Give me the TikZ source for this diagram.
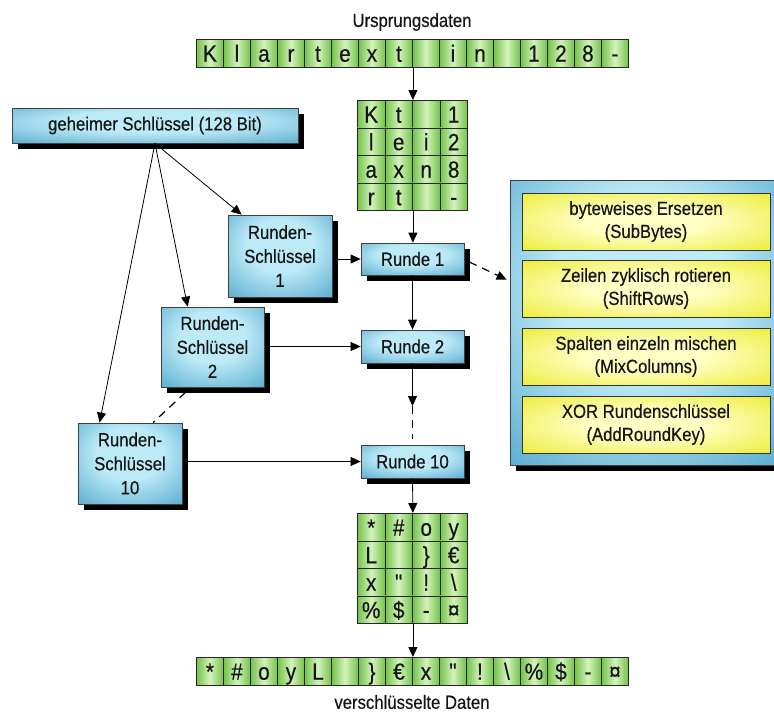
\documentclass[tikz,border=0pt]{standalone}
\usepackage{fontspec}
\setmainfont{Liberation Sans}[FakeStretch=0.88, FakeBold=0.4]
\newfontfamily\rawfont{Liberation Sans}[FakeStretch=0.88, FakeBold=0.4]
\usetikzlibrary{arrows.meta,shadows,calc}

\definecolor{cellmid}{HTML}{D4F3BC}
\definecolor{celledge}{HTML}{74C24A}
\definecolor{bluelight}{HTML}{BDEAF7}
\definecolor{bluedark}{HTML}{2A8FBC}
\definecolor{yellowmid}{HTML}{FFFFC4}
\definecolor{yellowedge}{HTML}{E4E400}
\definecolor{ink}{HTML}{151515}

\pgfdeclareradialshading{boxblue}{\pgfpoint{0bp}{8bp}}%
  {color(0bp)=(bluelight); color(16bp)=(bluelight); color(50bp)=(bluedark); color(72bp)=(bluedark)}
\pgfdeclareradialshading{boxyellow}{\pgfpoint{0bp}{0bp}}%
  {color(0bp)=(yellowmid); color(12bp)=(yellowmid); color(46bp)=(yellowedge); color(72bp)=(yellowedge)}

\tikzset{
  txt/.style={font=\fontsize{19}{24}\selectfont, text=ink},
  cell/.style={draw=black!85, line width=0.9pt, left color=celledge, right color=celledge,
    middle color=cellmid, minimum width=27pt, minimum height=27.5pt, inner sep=0pt,
    text height=17pt, text depth=0pt,
    anchor=north west, font=\fontsize{23.5}{24}\selectfont, text=ink},
  mcell/.style={cell, minimum width=27.5pt, minimum height=27.5pt},
  hbox/.style={draw=black!75, line width=0.8pt, shading=boxblue, inner sep=0pt, align=center, txt,
    drop shadow={shadow xshift=6pt, shadow yshift=-6pt, fill=black, opacity=1}},
  ybox/.style={draw=black!80, line width=0.8pt, shading=boxyellow, inner sep=0pt, align=center,
    txt, font=\fontsize{19}{23}\selectfont, minimum width=248pt, minimum height=57pt},
  arr/.style={line width=0.8pt, -{Triangle[length=10pt,width=9pt]}},
  dashline/.style={line width=1.2pt, dash pattern=on 8pt off 6pt},
}

\newcommand\stripcell[4]{\node[cell] (#1) at (#2,#3) {#4};}
\newcommand\matcell[4]{\node[mcell] (#1) at (#2,#3) {#4};}
\newcommand\dq{{\rawfont\symbol{34}}}

\begin{document}
\begin{tikzpicture}[x=1pt, y=-1pt]
\useasboundingbox (0,0) rectangle (774,713);

% plaintext row
\node[txt] (src) at (412,22) {Ursprungsdaten};
\stripcell{a1}{196}{39}{K}
\stripcell{a2}{223}{39}{l}
\stripcell{a3}{250}{39}{a}
\stripcell{a4}{277}{39}{r}
\stripcell{a5}{304}{39}{t}
\stripcell{a6}{331}{39}{e}
\stripcell{a7}{358}{39}{x}
\stripcell{a8}{385}{39}{t}
\stripcell{a9}{412}{39}{}
\stripcell{a10}{439}{39}{i}
\stripcell{a11}{466}{39}{n}
\stripcell{a12}{493}{39}{}
\stripcell{a13}{520}{39}{1}
\stripcell{a14}{547}{39}{2}
\stripcell{a15}{574}{39}{8}
\stripcell{a16}{601}{39}{-}

% plaintext as 4x4 state matrix (column-wise)
\matcell{m11}{357}{100}{K}  \matcell{m12}{384.5}{100}{t}  \matcell{m13}{412}{100}{}  \matcell{m14}{439.5}{100}{1}
\matcell{m21}{357}{127.5}{l}\matcell{m22}{384.5}{127.5}{e}\matcell{m23}{412}{127.5}{i}\matcell{m24}{439.5}{127.5}{2}
\matcell{m31}{357}{155}{a}  \matcell{m32}{384.5}{155}{x}  \matcell{m33}{412}{155}{n}  \matcell{m34}{439.5}{155}{8}
\matcell{m41}{357}{182.5}{r}\matcell{m42}{384.5}{182.5}{t}\matcell{m43}{412}{182.5}{} \matcell{m44}{439.5}{182.5}{-}

% key and round keys
\node[hbox, minimum width=286pt, minimum height=35pt] (key) at (155,125.5) {geheimer Schlüssel (128 Bit)};
\node[hbox, minimum width=104pt, minimum height=82pt] (rs1) at (280,256) {Runden-\\Schlüssel\\1};
\node[hbox, minimum width=103pt, minimum height=80pt] (rs2) at (212.5,347) {Runden-\\Schlüssel\\2};
\node[hbox, minimum width=104pt, minimum height=81pt] (rs10) at (130,463.5) {Runden-\\Schlüssel\\10};

% rounds
\node[hbox, minimum width=103pt, minimum height=32pt] (r1) at (412.5,259) {Runde 1};
\node[hbox, minimum width=103pt, minimum height=33pt] (r2) at (412.5,346.5) {Runde 2};
\node[hbox, minimum width=103pt, minimum height=33pt] (r10) at (412.5,461.5) {Runde 10};

% steps of one round
\node[hbox, minimum width=264pt, minimum height=285pt] (panel) at (642,322.5) {};
\node[ybox] (s1) at (646,221.5) {byteweises Ersetzen\\(SubBytes)};
\node[ybox] (s2) at (646,288.5) {Zeilen zyklisch rotieren\\(ShiftRows)};
\node[ybox] (s3) at (646,356.5) {Spalten einzeln mischen\\(MixColumns)};
\node[ybox] (s4) at (646,424.5) {XOR Rundenschlüssel\\(AddRoundKey)};

% ciphertext as 4x4 state matrix
\matcell{b11}{357}{513}{*}  \matcell{b12}{384.5}{513}{\#}  \matcell{b13}{412}{513}{o}  \matcell{b14}{439.5}{513}{y}
\matcell{b21}{357}{540.5}{L}\matcell{b22}{384.5}{540.5}{}  \matcell{b23}{412}{540.5}{\}}\matcell{b24}{439.5}{540.5}{€}
\matcell{b31}{357}{568}{x}  \matcell{b32}{384.5}{568}{\dq}  \matcell{b33}{412}{568}{!}  \matcell{b34}{439.5}{568}{\textbackslash}
\matcell{b41}{357}{595.5}{\%}\matcell{b42}{384.5}{595.5}{\$}\matcell{b43}{412}{595.5}{-}\matcell{b44}{439.5}{595.5}{¤}

% ciphertext row
\stripcell{c1}{196}{657}{*}
\stripcell{c2}{223}{657}{\#}
\stripcell{c3}{250}{657}{o}
\stripcell{c4}{277}{657}{y}
\stripcell{c5}{304}{657}{L}
\stripcell{c6}{331}{657}{}
\stripcell{c7}{358}{657}{\}}
\stripcell{c8}{385}{657}{€}
\stripcell{c9}{412}{657}{x}
\stripcell{c10}{439}{657}{\dq}
\stripcell{c11}{466}{657}{!}
\stripcell{c12}{493}{657}{\textbackslash}
\stripcell{c13}{520}{657}{\%}
\stripcell{c14}{547}{657}{\$}
\stripcell{c15}{574}{657}{-}
\stripcell{c16}{601}{657}{¤}
\node[txt] (dst) at (412,702) {verschlüsselte Daten};

% data flow
\draw[arr] (a8.south east) -- (m12.north east);
\draw[arr] (m42.south east) -- (m42.south east |- r1.north);
\draw[arr] (r1.south) -- (r2.north);
\coordinate (gap) at (412.5,406);
\draw[arr] (r2.south) -- (gap);
\draw[dashline] (gap) -- ([yshift=6pt]r10.north);
\draw[arr] (r10.south) -- (b12.north east);
\draw[arr] (b42.south east) -- (c8.north east);

% key schedule
\draw[arr] (key.south) -- ([xshift=14pt]rs1.north west);
\draw[arr] (key.south) -- ([xshift=27pt]rs2.north west);
\draw[arr] (key.south) -- ([xshift=22pt]rs10.north west);
\draw[dashline] ([xshift=-27pt,yshift=-5pt]rs2.south) -- ([xshift=23pt]rs10.north);
\draw[arr] ([xshift=6pt]rs1.east |- r1.west) -- (r1.west);
\draw[arr] ([xshift=6pt]rs2.east |- r2.west) -- (r2.west);
\draw[arr] ([xshift=6pt]rs10.east |- r10.west) -- (r10.west);

% round detail
\coordinate (pin) at ($(panel.north west)!0.35!(panel.south west)+(-3,0)$);
\draw[arr, dashline] ([xshift=5pt,yshift=-3pt]r1.east) -- (pin);
\end{tikzpicture}
\end{document}
